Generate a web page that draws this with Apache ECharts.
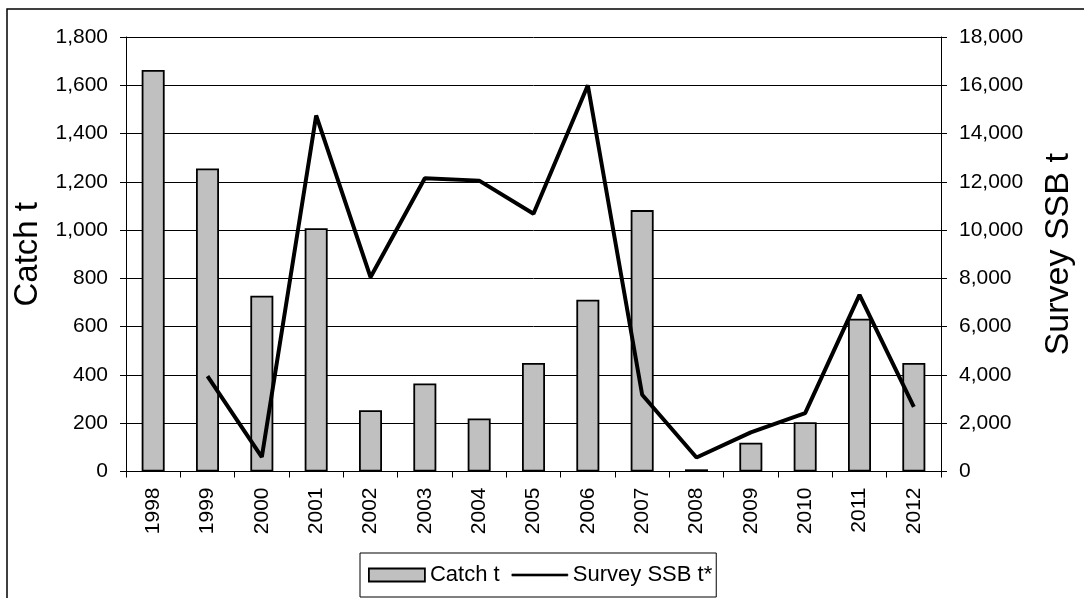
<!DOCTYPE html>
<html>
<head>
<meta charset="utf-8">
<script src="https://cdn.jsdelivr.net/npm/echarts@6/dist/echarts.min.js"></script>
<style>
html,body{margin:0;padding:0;background:#fff;}
#chart{width:1084px;height:598px;}
</style>
</head>
<body>
<div id="chart"></div>
<script>
const years = ['1998','1999','2000','2001','2002','2003','2004','2005','2006','2007','2008','2009','2010','2011','2012'];
const catchT = [1663, 1255, 728, 1008, 254, 365, 220, 450, 712, 1083, 9, 119, 204, 633, 450];
const surveySSB = [null, 3950, 600, 14750, 8050, 12150, 12050, 10680, 16000, 3180, 580, 1620, 2420, 7320, 2680];
const leftTicks = {min: 0, max: 1800, interval: 200};
const rightTicks = {min: 0, max: 18000, interval: 2000};

const FONT = '"Liberation Sans", Arial, sans-serif';
const chart = echarts.init(document.getElementById('chart'), null, {renderer: 'canvas'});
const fmt = v => v.toLocaleString('en-US');
// thin horizontal line icon (tiny corner specks keep the bounding box full height)
const lineIcon = 'path://M0,0L0.2,0L0.2,0.05L0,0.05Z M0,5L100,5L100,9L0,9Z M99.8,13.95L100,13.95L100,14L99.8,14Z';

chart.setOption({
  animation: false,
  backgroundColor: '#fff',
  textStyle: {fontFamily: FONT, color: '#000'},
  graphic: [{
    type: 'rect', silent: true, z: -1,
    shape: {x: 7, y: 9, width: 1200, height: 800},
    style: {fill: 'none', stroke: '#000', lineWidth: 1.5}
  }],
  grid: {left: 126, right: 131, top: 37, bottom: 126.5, containLabel: false},
  legend: {
    left: 360, top: 553,
    padding: [11, 4, 11, 8],
    borderColor: '#000', borderWidth: 1,
    itemWidth: 56, itemHeight: 13, itemGap: 12,
    textStyle: {fontFamily: FONT, fontSize: 22, color: '#000', lineHeight: 22},
    data: [
      {name: 'Catch t', icon: 'rect', itemStyle: {color: '#c0c0c0', borderColor: '#000', borderWidth: 1.8}},
      {name: 'Survey SSB t*', icon: lineIcon, itemStyle: {color: '#000', borderColor: '#000', borderWidth: 0.5}}
    ]
  },
  xAxis: {
    type: 'category', data: years, boundaryGap: true,
    axisLine: {lineStyle: {color: '#000', width: 1}},
    axisTick: {show: true, length: 6, inside: false, alignWithLabel: false, lineStyle: {color: '#000'}},
    axisLabel: {rotate: 90, fontSize: 21, fontFamily: FONT, color: '#000', margin: 16, interval: 0}
  },
  yAxis: [{
    type: 'value', position: 'left',
    min: leftTicks.min, max: leftTicks.max, interval: leftTicks.interval,
    name: 'Catch t', nameLocation: 'middle', nameRotate: 90, nameGap: 72,
    nameTextStyle: {fontSize: 33, fontFamily: FONT, color: '#000'},
    axisLine: {show: true, lineStyle: {color: '#000', width: 1}},
    axisTick: {show: true, length: 6, lineStyle: {color: '#000'}},
    axisLabel: {fontSize: 21, fontFamily: FONT, color: '#000', margin: 18, formatter: fmt},
    splitLine: {show: true, lineStyle: {color: '#000', width: 1}}
  }, {
    type: 'value', position: 'right',
    min: rightTicks.min, max: rightTicks.max, interval: rightTicks.interval,
    name: 'Survey SSB t', nameLocation: 'middle', nameRotate: 90, nameGap: 101,
    nameTextStyle: {fontSize: 34, fontFamily: FONT, color: '#000'},
    axisLine: {show: true, lineStyle: {color: '#000', width: 1}},
    axisTick: {show: true, length: 6, lineStyle: {color: '#000'}},
    axisLabel: {fontSize: 21, fontFamily: FONT, color: '#000', margin: 18, formatter: fmt},
    splitLine: {show: false}
  }],
  series: [{
    name: 'Catch t', type: 'bar', yAxisIndex: 0, data: catchT,
    barWidth: 23,
    itemStyle: {color: '#c0c0c0', borderColor: '#000', borderWidth: 1.8}
  }, {
    name: 'Survey SSB t*', type: 'line', yAxisIndex: 1, data: surveySSB,
    symbol: 'none', showSymbol: false, connectNulls: false,
    lineStyle: {color: '#000', width: 4},
    itemStyle: {color: '#000'}
  }]
});
</script>
</body>
</html>
